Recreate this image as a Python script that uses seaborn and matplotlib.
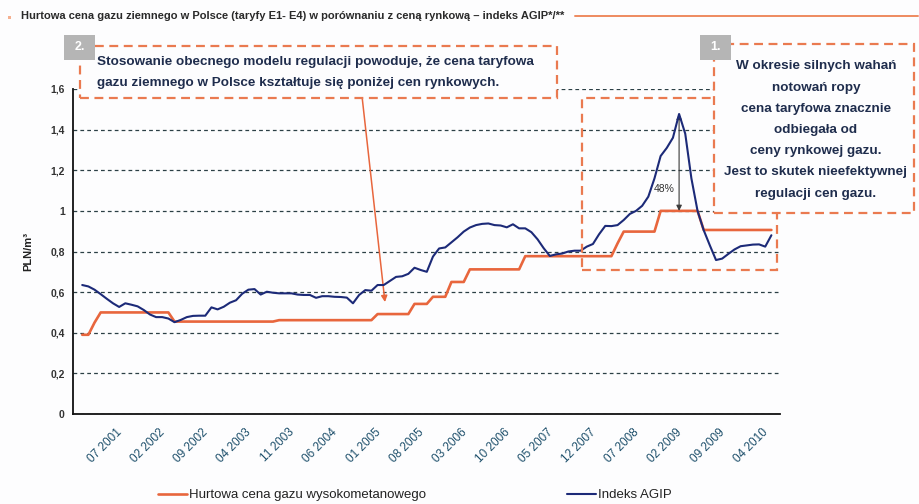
import matplotlib
matplotlib.use("Agg")  # headless rendering

import matplotlib.pyplot as plt
from matplotlib.lines import Line2D
from matplotlib.patches import Rectangle
import numpy as np
import pandas as pd
import seaborn as sns

# monthly values, 01 2001 .. 05 2010 (PLN/m3)
tariff = [
    0.39, 0.39, 0.45, 0.50, 0.50, 0.50, 0.50, 0.50, 0.50, 0.50,
    0.50, 0.50, 0.50, 0.50, 0.50, 0.455, 0.455, 0.455, 0.455, 0.455,
    0.455, 0.455, 0.455, 0.455, 0.455, 0.455, 0.455, 0.455, 0.455, 0.455,
    0.455, 0.455, 0.462, 0.462, 0.462, 0.462, 0.462, 0.462, 0.462, 0.462,
    0.462, 0.462, 0.462, 0.462, 0.462, 0.462, 0.462, 0.462, 0.492, 0.492,
    0.492, 0.492, 0.492, 0.492, 0.542, 0.542, 0.542, 0.577, 0.577, 0.577,
    0.65, 0.65, 0.65, 0.712, 0.712, 0.712, 0.712, 0.712, 0.712, 0.712,
    0.712, 0.712, 0.777, 0.777, 0.777, 0.777, 0.777, 0.777, 0.777, 0.777,
    0.777, 0.777, 0.777, 0.777, 0.777, 0.777, 0.777, 0.84, 0.898, 0.898,
    0.898, 0.898, 0.898, 0.898, 1.0, 1.0, 1.0, 1.0, 1.0, 1.0,
    1.0, 0.906, 0.906, 0.906, 0.906, 0.906, 0.906, 0.906, 0.906, 0.906,
    0.906, 0.906, 0.906,
]
agip = [
    0.635, 0.628, 0.612, 0.59, 0.567, 0.545, 0.527, 0.545, 0.538, 0.53,
    0.512, 0.49, 0.477, 0.477, 0.47, 0.452, 0.463, 0.477, 0.483, 0.484,
    0.484, 0.525, 0.515, 0.528, 0.548, 0.56, 0.592, 0.612, 0.615, 0.588,
    0.602, 0.597, 0.594, 0.594, 0.594, 0.588, 0.586, 0.586, 0.572, 0.58,
    0.58, 0.577, 0.576, 0.573, 0.545, 0.586, 0.61, 0.607, 0.635, 0.635,
    0.655, 0.675, 0.678, 0.69, 0.72, 0.709, 0.70, 0.775, 0.815, 0.82,
    0.845, 0.87, 0.898, 0.918, 0.93, 0.936, 0.938, 0.93, 0.928, 0.919,
    0.934, 0.914, 0.914, 0.895, 0.86, 0.816, 0.778, 0.786, 0.79, 0.80,
    0.804, 0.804, 0.824, 0.837, 0.885, 0.926, 0.925, 0.93, 0.955, 0.985,
    1.0, 1.025, 1.07, 1.16, 1.27, 1.31, 1.36, 1.477, 1.38, 1.16,
    1.0, 0.905, 0.83, 0.758, 0.765, 0.788, 0.81, 0.826, 0.83, 0.834,
    0.835, 0.824, 0.88,
]
tick_labels = [
    "07 2001", "02 2002", "09 2002", "04 2003", "11 2003", "06 2004",
    "01 2005", "08 2005", "03 2006", "10 2006", "05 2007", "12 2007",
    "07 2008", "02 2009", "09 2009", "04 2010",
]
ytick_values = [0, 0.2, 0.4, 0.6, 0.8, 1.0, 1.2, 1.4, 1.6]
ytick_labels = ["0", "0,2", "0,4", "0,6", "0,8", "1", "1,2", "1,4", "1,6"]
series_names = ["Hurtowa cena gazu wysokometanowego", "Indeks AGIP"]

title = ("Hurtowa cena gazu ziemnego w Polsce (taryfy E1- E4) "
         "w porównaniu z ceną rynkową – indeks AGIP*/**")
note_2 = ("Stosowanie obecnego modelu regulacji powoduje, że cena taryfowa\n"
          "gazu ziemnego w Polsce kształtuje się poniżej cen rynkowych.")
note_1 = ("W okresie silnych wahań\nnotowań ropy\ncena taryfowa znacznie\n"
          "odbiegała od\nceny rynkowej gazu.\nJest to skutek nieefektywnej\n"
          "regulacji cen gazu.")

ORANGE = "#e8663d"
NAVY = "#1c2a78"
DASH_OR = "#ea7a50"
BG = "#fdfdfe"
W, H = 920, 504

sns.set_style("white")
plt.rcParams["font.family"] = ["Liberation Sans", "DejaVu Sans"]


def fx(px):
    return px / W


def fy(py):
    return 1 - py / H


df = pd.DataFrame({
    "month": np.arange(len(tariff)),
    "tariff": tariff,
    "agip": agip,
})

fig = plt.figure(figsize=(W / 100, H / 100), dpi=100, facecolor=BG)
ax = fig.add_axes([fx(73), fy(414), fx(780) - fx(73), fy(89) - fy(414)])
ax.set_facecolor(BG)

sns.lineplot(data=df, x="month", y="tariff", ax=ax, color=ORANGE,
             linewidth=1.9, label=series_names[0], zorder=3)
sns.lineplot(data=df, x="month", y="agip", ax=ax, color=NAVY,
             linewidth=1.5, label=series_names[1], zorder=4)
handles, labels = ax.get_legend_handles_labels()
ax.get_legend().remove()

ax.set_xlim(-1.5, 113.4)
ax.set_ylim(0, 1.6)
ax.set_xlabel("")
ax.set_ylabel("")
ax.set_xticks(np.arange(len(tick_labels)) * 7 + 5.5)
ax.set_xticklabels(tick_labels, rotation=45, ha="right",
                   rotation_mode="anchor", fontsize=8.5, color="#1d4f6b")
ax.set_yticks(ytick_values)
ax.set_yticklabels(ytick_labels, fontsize=7.5, fontweight="bold", color="#333333")
ax.tick_params(axis="x", direction="out", length=3, width=1, pad=6, color="#222222")
ax.tick_params(axis="y", direction="out", length=4.5, width=1, pad=1.5, color="#222222")
ax.yaxis.grid(True, color="#2b3f45", linestyle=(0, (3, 2.5)), linewidth=0.9)
ax.set_axisbelow(True)
sns.despine(ax=ax)
for side in ("left", "bottom"):
    ax.spines[side].set_color("#111111")
    ax.spines[side].set_linewidth(1.3)

# 48% gap arrow at the AGIP peak
peak = int(np.argmax(agip))
ax.annotate("", xy=(peak, tariff[peak]), xytext=(peak, agip[peak]),
            arrowprops=dict(arrowstyle="<|-|>", color="#3a3a3a", lw=0.8,
                            mutation_scale=8, shrinkA=0, shrinkB=0))
ax.text(peak - 2.4, 1.108, "48%", fontsize=7.5, color="#333333",
        ha="center", va="center")

# arrow from the note box down to the curves
ax.annotate("", xy=(49.2, 0.551), xytext=(45.5, 1.556),
            annotation_clip=False,
            arrowprops=dict(arrowstyle="-|>", color=ORANGE, lw=1.1,
                            mutation_scale=9, shrinkA=0, shrinkB=0))

# dashed frames
def frame(x0, y0, x1, y1, fill, z):
    fig.add_artist(Rectangle((fx(x0), fy(y1)), fx(x1) - fx(x0), fy(y0) - fy(y1),
                             transform=fig.transFigure, facecolor=fill if fill else "none",
                             edgecolor=DASH_OR, linewidth=1.6,
                             linestyle=(0, (4, 2.5)), zorder=z))


def badge(x0, y0, text):
    fig.add_artist(Rectangle((fx(x0), fy(y0 + 25)), fx(31), 25 / H,
                             transform=fig.transFigure, facecolor="#b5b5b5",
                             edgecolor="none", zorder=5))
    fig.text(fx(x0 + 15.5), fy(y0 + 12.5), text, color="white", fontsize=9,
             fontweight="bold", ha="center", va="center", zorder=6)


frame(582, 98, 777, 270, None, 2)
frame(80, 46, 557, 98, BG, 3)
frame(714, 44, 914, 213, BG, 3)
badge(64, 35, "2.")
badge(700, 35, "1.")

fig.text(fx(97), fy(72.5), note_2, fontsize=9.7, fontweight="bold",
         color="#1f2d4d", ha="left", va="center", linespacing=1.9, zorder=6)
fig.text(fx(816), fy(130), note_1, fontsize=9.7, fontweight="bold",
         color="#1f2d4d", ha="center", va="center", linespacing=2.02, zorder=6)

# heading with rule
fig.add_artist(Rectangle((fx(8), fy(19)), fx(3), 3 / H, transform=fig.transFigure,
                         facecolor="#f5b090", edgecolor="none"))
fig.text(fx(21), fy(16), title, fontsize=8, fontweight="bold", color="#2a2a2a",
         ha="left", va="center")
fig.add_artist(Line2D([fx(575), fx(918)], [fy(16), fy(16)], color="#ee8a5f",
                      linewidth=1.4, transform=fig.transFigure))

fig.text(fx(28), fy(251), "PLN/m³", rotation=90, fontsize=8, fontweight="bold",
         color="#222222", ha="center", va="center")

# legend, two separated entries
for h, lab, x0 in zip(handles, labels, (158, 567)):
    fig.legend([h], [lab], loc="center left", bbox_to_anchor=(fx(x0), fy(495)),
               frameon=False, borderpad=0, borderaxespad=0, handlelength=2.2,
               handletextpad=0.15, fontsize=9.5, labelcolor="#222222")

fig.savefig("out.png", dpi=100, facecolor=BG)
plt.close(fig)
